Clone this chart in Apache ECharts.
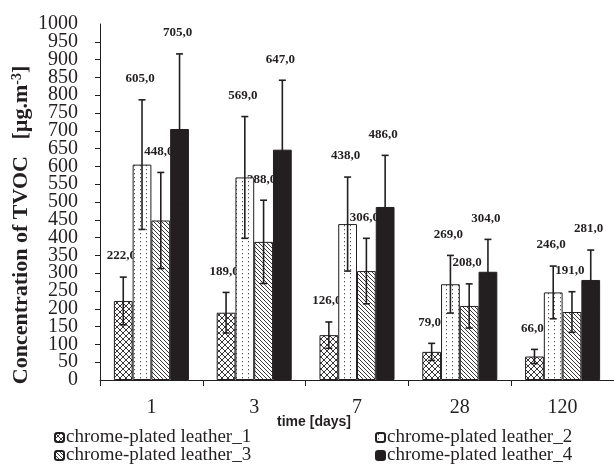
<!DOCTYPE html>
<html>
<head>
<meta charset="utf-8">
<script src="https://cdn.jsdelivr.net/npm/echarts@6/dist/echarts.min.js"></script>
<style>html,body{margin:0;padding:0;background:#fff}#c{width:614px;height:464px}</style>
</head>
<body>
<div id="c"></div>
<script>
const categories = ['1', '3', '7', '28', '120'];
const seriesNames = ['chrome-plated leather_1', 'chrome-plated leather_2', 'chrome-plated leather_3', 'chrome-plated leather_4'];
const leather1 = [222, 189, 126, 79, 66];
const leather2 = [605, 569, 438, 269, 246];
const leather3 = [448, 388, 306, 208, 191];
const leather4 = [705, 647, 486, 304, 281];
const err1 = [67, 57, 37, 24, 20];
const err2 = [182, 171, 132, 81, 74];
const err3 = [135, 117, 92, 62, 57];
const err4 = [211, 195, 145, 91, 84];
const yTicks = {min: 0, max: 1000, interval: 50};

const values = [leather1, leather2, leather3, leather4];
const errors = [err1, err2, err3, err4];
const INK = '#231f20';
const GAP = 0.27;

function makePattern(kind) {
  const cv = document.createElement('canvas');
  const ctx = cv.getContext('2d');
  if (kind === 0) {
    cv.width = 6; cv.height = 6;
    ctx.fillStyle = '#fff'; ctx.fillRect(0, 0, 6, 6);
    ctx.strokeStyle = INK; ctx.lineWidth = 0.9;
    ctx.beginPath();
    ctx.moveTo(0, 0); ctx.lineTo(6, 6);
    ctx.moveTo(6, 0); ctx.lineTo(0, 6);
    ctx.stroke();
  } else if (kind === 1) {
    cv.width = 6; cv.height = 4;
    ctx.fillStyle = '#fff'; ctx.fillRect(0, 0, 6, 4);
    ctx.fillStyle = '#555';
    ctx.fillRect(2, 1, 1, 1.3);
  } else if (kind === 2) {
    cv.width = 4; cv.height = 4;
    ctx.fillStyle = '#fff'; ctx.fillRect(0, 0, 4, 4);
    ctx.strokeStyle = INK; ctx.lineWidth = 0.9;
    ctx.beginPath();
    ctx.moveTo(-1, -1); ctx.lineTo(5, 5);
    ctx.moveTo(-1, 3); ctx.lineTo(1, 5);
    ctx.moveTo(3, -1); ctx.lineTo(5, 1);
    ctx.stroke();
  } else {
    return INK;
  }
  return {image: cv, repeat: 'repeat'};
}

function barX(api, catIdx, si) {
  const c = api.coord([catIdx, 0]);
  const band = api.size([1, 0])[0];
  const gw = band * (1 - GAP);
  const bw = gw / 4;
  return c[0] - gw / 2 + bw * (si + 0.5);
}

const combined = [];
for (let i = 0; i < 4; i++) {
  for (let j = 0; j < categories.length; j++) {
    combined.push([j, values[i][j], errors[i][j], i]);
  }
}

const barSeries = seriesNames.map((name, i) => ({
  name: name,
  type: 'bar',
  data: values[i],
  barGap: 0,
  barCategoryGap: (GAP * 100) + '%',
  z: 2,
  itemStyle: {color: makePattern(i), borderColor: INK, borderWidth: 1},
  emphasis: {disabled: true}
}));

const legendPos = [[54, 428], [375, 428], [54, 446], [375, 446]];
const legends = seriesNames.map((name, i) => ({
  data: [name],
  left: legendPos[i][0], top: legendPos[i][1],
  itemWidth: 9, itemHeight: 9, itemGap: 0, padding: 0,
  textStyle: {color: INK, fontFamily: 'Liberation Serif', fontSize: 19, lineHeight: 18, padding: [0, 0, 0, -3]},
  selectedMode: false
}));

const yLabelBase = {color: INK, fontFamily: 'Liberation Serif', fontSize: 20, margin: 22, hideOverlap: false};

const chart = echarts.init(document.getElementById('c'), null, {renderer: 'canvas'});
chart.setOption({
  animation: false,
  backgroundColor: '#fff',
  grid: {left: 100, right: -6, top: 24, bottom: 84, containLabel: false},
  xAxis: {
    type: 'category',
    data: categories,
    axisLine: {lineStyle: {color: INK, width: 1}},
    axisTick: {show: true, length: 6, lineStyle: {color: INK}},
    axisLabel: {color: INK, fontFamily: 'Liberation Serif', fontSize: 20, margin: 18}
  },
  yAxis: [
    {
      type: 'value', position: 'left',
      min: yTicks.min, max: yTicks.max, interval: yTicks.interval,
      splitLine: {show: false},
      axisLine: {show: true, lineStyle: {color: INK, width: 1}},
      axisTick: {show: true, length: 5, lineStyle: {color: INK}},
      axisLabel: Object.assign({}, yLabelBase, {showMinLabel: false, showMaxLabel: false,
        formatter: function (v) { return String(v); }})
    },
    {
      type: 'value', position: 'left',
      min: yTicks.min, max: yTicks.max, interval: yTicks.interval,
      splitLine: {show: false},
      axisLine: {show: false},
      axisTick: {show: false},
      axisLabel: Object.assign({}, yLabelBase, {showMinLabel: true, showMaxLabel: true,
        formatter: function (v) { return (v === yTicks.min || v === yTicks.max) ? String(v) : ''; }})
    }
  ],
  legend: legends,
  graphic: [
    {
      type: 'text', x: 21, y: 225, rotation: Math.PI / 2,
      style: {
        text: '{t|Concentration of TVOC   [µg.m}{s|-3}{t|]}',
        align: 'center', verticalAlign: 'middle',
        rich: {
          t: {fontFamily: 'Liberation Serif', fontWeight: 'bold', fontSize: 22, fill: INK, verticalAlign: 'bottom'},
          s: {fontFamily: 'Liberation Serif', fontWeight: 'bold', fontSize: 14, fill: INK, verticalAlign: 'top', padding: [0, 0, 8, 0]}
        }
      }
    },
    {
      type: 'text', x: 314, y: 422,
      style: {
        text: 'time [days]', align: 'center', verticalAlign: 'middle',
        font: 'bold 14px "Liberation Sans"', fill: INK
      }
    }
  ],
  series: barSeries.concat([
    {
      type: 'custom',
      name: 'labels',
      z: 1,
      data: combined,
      encode: {x: 0, y: 1},
      renderItem: function (params, api) {
        const j = api.value(0), v = api.value(1), e = api.value(2), si = api.value(3);
        const x = barX(api, j, si);
        const yTop = api.coord([j, v + e])[1];
        return {
          type: 'text',
          style: {
            x: x - 2, y: yTop - 21,
            text: v.toFixed(1).replace('.', ','),
            align: 'center', verticalAlign: 'middle',
            font: 'bold 13px "Liberation Serif"', fill: INK
          }
        };
      }
    },
    {
      type: 'custom',
      name: 'errors',
      z: 3,
      data: combined,
      encode: {x: 0, y: 1},
      renderItem: function (params, api) {
        const j = api.value(0), v = api.value(1), e = api.value(2), si = api.value(3);
        const x = barX(api, j, si);
        const yT = api.coord([j, v + e])[1];
        const yB = api.coord([j, v - e])[1];
        const cap = 3.5;
        const st = {stroke: INK, lineWidth: 1.6};
        return {
          type: 'group',
          children: [
            {type: 'line', shape: {x1: x, y1: yT, x2: x, y2: yB}, style: st},
            {type: 'line', shape: {x1: x - cap, y1: yT, x2: x + cap, y2: yT}, style: st},
            {type: 'line', shape: {x1: x - cap, y1: yB, x2: x + cap, y2: yB}, style: st}
          ]
        };
      }
    }
  ])
});
</script>
</body>
</html>
